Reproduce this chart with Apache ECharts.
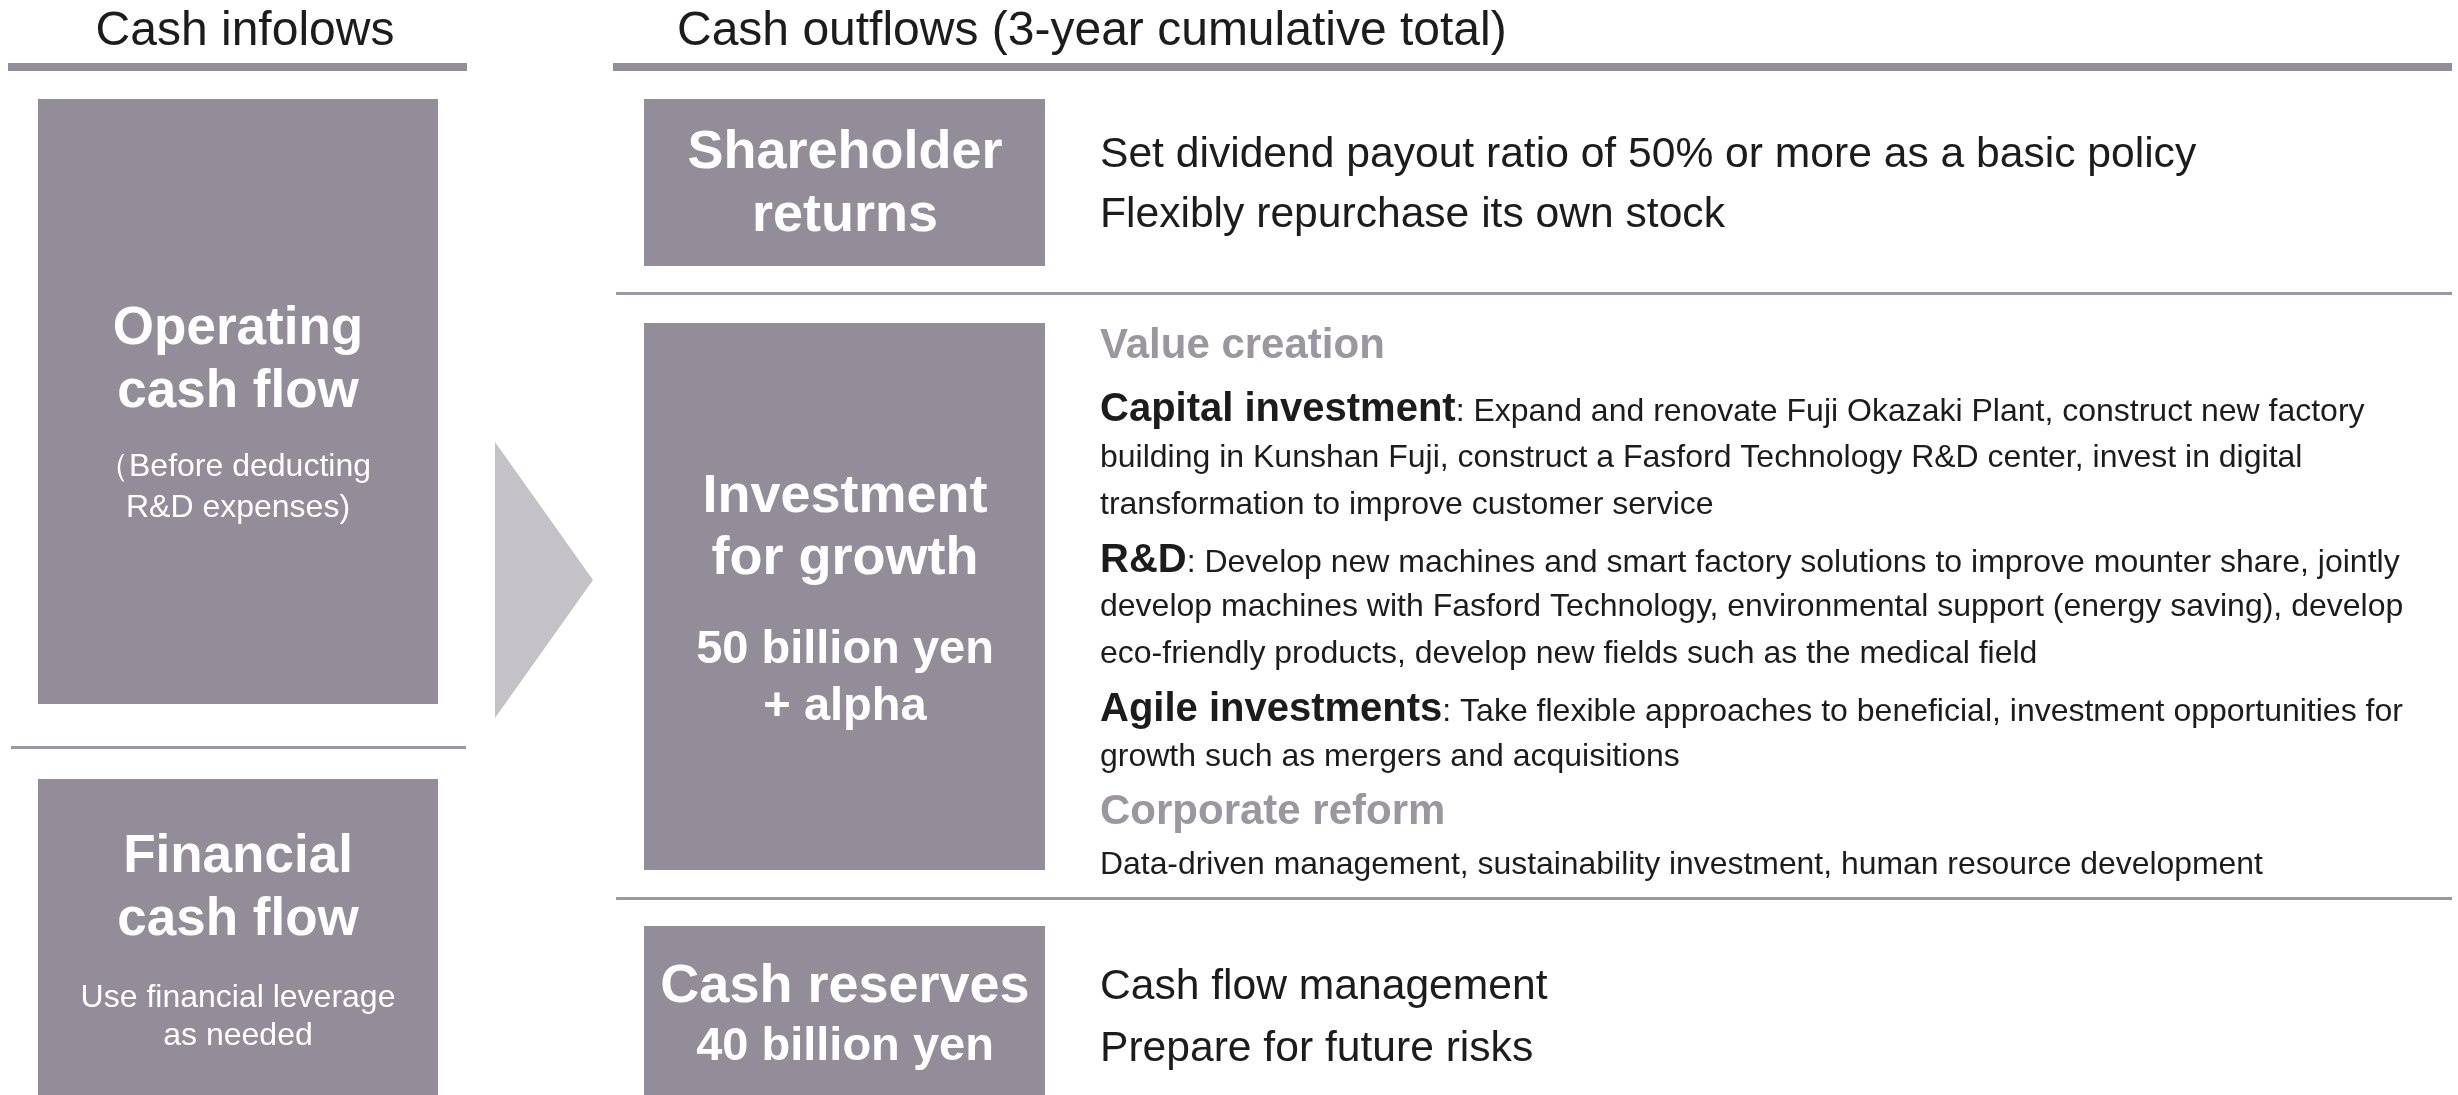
<!DOCTYPE html>
<html>
<head>
    <meta charset="utf-8">
    <script src="https://cdn.jsdelivr.net/npm/echarts@6/dist/echarts.min.js"></script>
    <style>
        body { margin: 0; background: #fff; }
    </style>
</head>
<body>
<div id="main" style="width: 2458px;height:1095px;"></div>
<script type="text/javascript">
    // texts of the diagram
    var headers = ['Cash infolows', 'Cash outflows (3-year cumulative total)'];
    var inflowTitles = [['Operating', 'cash flow'], ['Financial', 'cash flow']];
    var inflowNotes = [['（Before deducting', 'R&D expenses)'], ['Use financial leverage', 'as needed']];
    var outflowTitles = [['Shareholder', 'returns'], ['Investment', 'for growth'], ['Cash reserves']];
    var outflowAmounts = [[], ['50 billion yen', '+ alpha'], ['40 billion yen']];
    var shareholderPolicy = ['Set dividend payout ratio of 50% or more as a basic policy', 'Flexibly repurchase its own stock'];
    var reservePolicy = ['Cash flow management', 'Prepare for future risks'];
    var growthSections = ['Value creation', 'Corporate reform'];
    var growthItems = [
        {lead: 'Capital investment', lines: [': Expand and renovate Fuji Okazaki Plant, construct new factory',
            'building in Kunshan Fuji, construct a Fasford Technology R&D center, invest in digital',
            'transformation to improve customer service']},
        {lead: 'R&D', lines: [': Develop new machines and smart factory solutions to improve mounter share, jointly',
            'develop machines with Fasford Technology, environmental support (energy saving), develop',
            'eco-friendly products, develop new fields such as the medical field']},
        {lead: 'Agile investments', lines: [': Take flexible approaches to beneficial, investment opportunities for',
            'growth such as mergers and acquisitions']}
    ];
    var reformText = 'Data-driven management, sustainability investment, human resource development';

    var FONT = "'Liberation Sans', Arial, Helvetica, sans-serif";
    var BOX = '#938d99';
    var LINE = '#9d97a2';
    var INK = '#1c1c1c';
    var SUB = '#9b96a0';
    var DY = 3; // nudge: visual centre of glyphs sits a little below the em box centre

    function txt(x, y, s, size, weight, color, align) {
        return {
            type: 'text', x: x, y: y + DY, silent: true,
            style: {
                text: s, fill: color,
                font: (weight || 'normal') + ' ' + size + 'px ' + FONT,
                align: align || 'center', textAlign: align || 'center',
                verticalAlign: 'middle', textVerticalAlign: 'middle'
            }
        };
    }
    function rect(x, y, w, h, color) {
        return {type: 'rect', silent: true, shape: {x: x, y: y, width: w, height: h}, style: {fill: color}};
    }

    var els = [];
    // headings and rules
    els.push(txt(245, 29, headers[0], 48, 'normal', INK));
    els.push(txt(677, 29, headers[1], 48, 'normal', INK, 'left'));
    els.push(rect(8, 63, 459, 8, BOX));
    els.push(rect(613, 63, 1839, 8, BOX));
    els.push(rect(11, 746, 455, 3, LINE));
    els.push(rect(616, 292, 1836, 3, LINE));
    els.push(rect(616, 897, 1836, 3, LINE));

    // arrow
    els.push({type: 'polygon', silent: true, shape: {points: [[495, 442], [593, 580], [495, 718]]}, style: {fill: '#c4c2c7'}});

    // inflow boxes
    var inBoxes = [[38, 99, 400, 605], [38, 779, 400, 316]];
    var inTitleY = [[326, 389], [854, 917]];
    var inNoteY = [[464, 505], [995, 1033]];
    inBoxes.forEach(function (b, i) {
        els.push(rect(b[0], b[1], b[2], b[3], BOX));
        inflowTitles[i].forEach(function (t, j) {
            els.push(txt(238, inTitleY[i][j], t, 53, 'bold', '#fff'));
        });
        inflowNotes[i].forEach(function (t, j) {
            els.push(txt(i === 0 && j === 0 ? 234 : 238, inNoteY[i][j], t, 32, 'normal', '#fff'));
        });
    });

    // outflow boxes
    var outBoxes = [[644, 99, 401, 167], [644, 323, 401, 547], [644, 926, 401, 169]];
    var outTitleY = [[150, 213], [494, 556], [984]];
    var outAmountY = [[], [647, 704], [1044]];
    outBoxes.forEach(function (b, i) {
        els.push(rect(b[0], b[1], b[2], b[3], BOX));
        outflowTitles[i].forEach(function (t, j) {
            els.push(txt(845, outTitleY[i][j], t, 54, 'bold', '#fff'));
        });
        outflowAmounts[i].forEach(function (t, j) {
            els.push(txt(845, outAmountY[i][j], t, 47, 'bold', '#fff'));
        });
    });

    // right-hand descriptions
    var TX = 1100;
    shareholderPolicy.forEach(function (t, j) {
        els.push(txt(TX, [152, 212][j], t, 42.6, 'normal', INK, 'left'));
    });
    reservePolicy.forEach(function (t, j) {
        els.push(txt(TX, [984, 1046][j], t, 42.6, 'normal', INK, 'left'));
    });
    els.push(txt(TX, 343, growthSections[0], 42, 'bold', SUB, 'left'));
    els.push(txt(TX, 809, growthSections[1], 42, 'bold', SUB, 'left'));

    var itemY = [[404, 455, 502], [555, 604, 651], [704, 754]];
    growthItems.forEach(function (it, i) {
        it.lines.forEach(function (l, j) {
            if (j === 0) {
                els.push({
                    type: 'text', x: TX, y: itemY[i][j] + DY, silent: true,
                    style: {
                        text: '{b|' + it.lead + '}{n|' + l + '}',
                        align: 'left', textAlign: 'left', verticalAlign: 'middle', textVerticalAlign: 'middle',
                        rich: {
                            b: {font: 'bold 40px ' + FONT, fill: INK, verticalAlign: 'bottom', lineHeight: 46},
                            n: {font: 'normal 32px ' + FONT, fill: INK, verticalAlign: 'bottom', lineHeight: 46, padding: [0, 0, 2, 0]}
                        }
                    }
                });
            } else {
                els.push(txt(TX, itemY[i][j], l, 32, 'normal', INK, 'left'));
            }
        });
    });
    els.push(txt(TX, 862, reformText, 31.9, 'normal', INK, 'left'));

    var myChart = echarts.init(document.getElementById('main'));
    myChart.setOption({
        animation: false,
        graphic: {elements: els}
    });
</script>
</body>
</html>
